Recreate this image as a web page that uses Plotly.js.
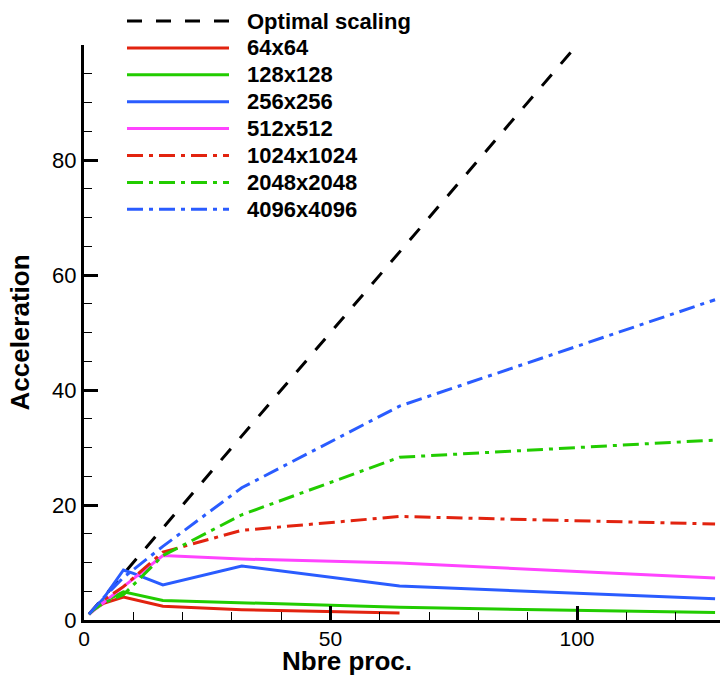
<!DOCTYPE html>
<html>
<head>
<meta charset="utf-8">
<script src="https://cdn.plot.ly/plotly-3.0.1.min.js"></script>
<style>
  html, body { margin: 0; padding: 0; background: #ffffff; }
  #chart { width: 720px; height: 675px; }
</style>
</head>
<body>
<div id="chart"></div>
<script>
// ---- Data ----
const procs = [1, 2, 4, 8, 16, 32, 64, 128];
const procs64 = [1, 2, 4, 8, 16, 32, 64];
const procs256 = [1, 2, 4, 8, 10, 16, 32, 64, 128];

const optimalScaling = [1, 2, 4, 8, 16, 32, 64, 128];
const acc64 = [1, 1.8, 2.9, 4.0, 2.4, 1.8, 1.2];
const acc128 = [1, 1.9, 3.2, 4.9, 3.4, 3.0, 2.2, 1.3];
const acc256 = [1, 2.0, 3.8, 8.7, 8.1, 6.1, 9.4, 5.9, 3.7];
const acc512 = [1, 1.7, 3.0, 5.8, 11.2, 10.6, 9.9, 7.3];
const acc1024 = [1, 1.9, 3.5, 5.8, 11.8, 15.6, 18.0, 16.7];
const acc2048 = [1, 1.8, 3.0, 4.4, 11.2, 18.3, 28.3, 31.3];
const acc4096 = [1, 2.0, 3.9, 7.4, 12.8, 23.0, 37.2, 55.7];

const seriesNames = ["Optimal scaling", "64x64", "128x128", "256x256", "512x512",
                     "1024x1024", "2048x2048", "4096x4096"];

const xTickVals = [0, 50, 100];
const yTickVals = [0, 20, 40, 60, 80];
const xTitle = "Nbre proc.";
const yTitle = "Acceleration";

// ---- Styles ----
const RED = "#e2230f", GREEN = "#22cc00", BLUE = "#2a5cff", MAGENTA = "#ff44ff";
const DASH = "15px,14px";
const DASHDOT = "16px,6px,4px,6px";
const styles = [
  { color: "#000000", dash: DASH },
  { color: RED, dash: "solid" },
  { color: GREEN, dash: "solid" },
  { color: BLUE, dash: "solid" },
  { color: MAGENTA, dash: "solid" },
  { color: RED, dash: DASHDOT },
  { color: GREEN, dash: DASHDOT },
  { color: BLUE, dash: DASHDOT }
];
const xs = [procs, procs64, procs, procs256, procs, procs, procs, procs];
const ys = [optimalScaling, acc64, acc128, acc256, acc512, acc1024, acc2048, acc4096];

const traces = xs.map((x, i) => ({
  type: "scatter",
  mode: "lines",
  name: seriesNames[i],
  x: x,
  y: ys[i],
  line: { color: styles[i].color, dash: styles[i].dash, width: 3 },
  showlegend: false,
  hoverinfo: "skip"
}));

// ---- Custom legend (long line samples like the reference) ----
const W = 720, H = 675;
const mL = 84, mR = 0, mT = 45, mB = 55;
const pw = W - mL - mR, ph = H - mT - mB;
const px2x = p => (p - mL) / pw;
const py2y = p => (H - mB - p) / ph;

const shapes = [];
const annotations = [];
const legTop = 21, legStep = 26.9, legX0 = 127, legX1 = 229, legText = 245;
const FONT = "Liberation Sans, Arial, sans-serif";
seriesNames.forEach((nm, i) => {
  const yp = py2y(legTop + i * legStep);
  shapes.push({
    type: "line", xref: "paper", yref: "paper",
    x0: px2x(legX0), x1: px2x(legX1), y0: yp, y1: yp,
    line: { color: styles[i].color, width: 3, dash: styles[i].dash }
  });
  annotations.push({
    xref: "paper", yref: "paper", x: px2x(legText), y: yp,
    xanchor: "left", yanchor: "middle", showarrow: false,
    text: nm,
    font: { family: FONT, size: 22, color: "#000", weight: "bold" }
  });
});

const tickFont = { family: FONT, size: 22, color: "#000" };
const xTickFont = { family: FONT, size: 21, color: "#000" };
const titleFont = { family: FONT, size: 26, color: "#000", weight: "bold" };

// x-axis title placed as in the reference (left of centre)
annotations.push({
  xref: "paper", yref: "paper", x: px2x(347), y: py2y(661),
  xanchor: "center", yanchor: "middle", showarrow: false, borderpad: 0,
  text: xTitle, font: titleFont
});

const layout = {
  width: W, height: H,
  margin: { l: mL, r: mR, t: mT, b: mB, pad: 0 },
  paper_bgcolor: "#ffffff",
  plot_bgcolor: "#ffffff",
  showlegend: false,
  xaxis: {
    range: [0, 129],
    tickvals: xTickVals,
    ticktext: xTickVals.map(String),
    ticks: "inside", ticklen: 14, tickwidth: 3, tickcolor: "#000",
    ticklabelstandoff: -2,
    minor: { ticks: "inside", ticklen: 8, tickwidth: 1, tickcolor: "#000", dtick: 10, tick0: 0, showgrid: false },
    showline: true, linewidth: 3, linecolor: "#000",
    showgrid: false, zeroline: false,
    tickfont: xTickFont
  },
  yaxis: {
    range: [0, 100],
    tickvals: yTickVals,
    ticktext: yTickVals.map(String),
    ticks: "inside", ticklen: 14, tickwidth: 3, tickcolor: "#000",
    minor: { ticks: "inside", ticklen: 8, tickwidth: 1, tickcolor: "#000", dtick: 5, tick0: 0, showgrid: false },
    showline: true, linewidth: 3, linecolor: "#000",
    showgrid: false, zeroline: false,
    tickfont: tickFont,
    title: { text: yTitle, font: titleFont, standoff: 16 }
  },
  shapes: shapes,
  annotations: annotations
};

Plotly.newPlot("chart", traces, layout, { staticPlot: true, displayModeBar: false });
</script>
</body>
</html>
